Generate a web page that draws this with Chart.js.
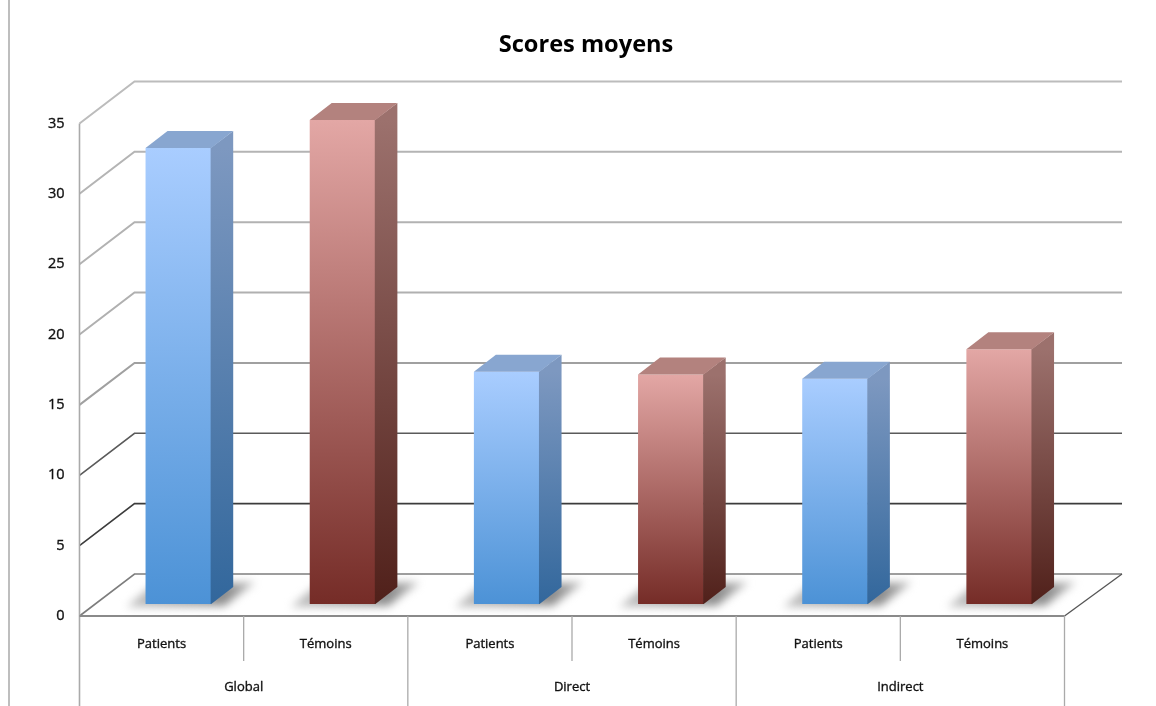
<!DOCTYPE html>
<html><head><meta charset="utf-8">
<style>html,body{margin:0;padding:0;background:#fff}canvas{display:block;filter:blur(0.5px)}</style>
<script src="https://cdn.jsdelivr.net/npm/chart.js@4"></script>
</head><body>
<div style="width:1156px;height:706px"><canvas id="c" width="1156" height="706"></canvas></div>
<script>
const categories = ['Patients','Témoins','Patients','Témoins','Patients','Témoins'];
const groups = ['Global','Direct','Indirect'];
const scores = [32.4,34.4,16.5,16.3,16.0,18.1];
const yTicks = [0,5,10,15,20,25,30,35];
const gridColors = ['#7d7d7d','#3c3c3c','#5a5a5a','#a0a0a0','#b0b0b0','#b2b2b2','#b4b4b4','#bcbcbc'];

const DEPTH = {x:55,y:-42};      // wall depth
const BACK_EXTRA = 2.5;          // back wall runs slightly past the floor corner
const BAR_SHIFT = {x:16.8,y:-12};  // bars stand inside the floor
const BAR_DEPTH = {x:22,y:-17};
const TITLE_X = 586;
const palette = {
  Patients:{top:'#88a6d0',front:['#a9cdff','#4c92d6'],side:['#7d98c0','#32679c']},
  'Témoins':{top:'#b3827e',front:['#e3a7a5','#752c27'],side:['#9c716d','#50201a']}
};

function line(ctx,pts,color,w){
  ctx.beginPath();pts.forEach((p,i)=>i?ctx.lineTo(p[0],p[1]):ctx.moveTo(p[0],p[1]));
  ctx.strokeStyle=color;ctx.lineWidth=w;ctx.stroke();
}
function vGrad(ctx,y0,y1,c){const g=ctx.createLinearGradient(0,y0,0,y1);g.addColorStop(0,c[0]);g.addColorStop(1,c[1]);return g;}

const scene3d = {
  id:'scene3d',
  afterLayout(chart){
    const t=chart.titleBlock; t.left=TITLE_X-400; t.right=TITLE_X+400;
  },
  beforeDatasetsDraw(chart){
    const {ctx,scales:{x,y}}=chart;
    const L=x.left,R=x.right,Y0=y.getPixelForValue(0);
    ctx.save();
    line(ctx,[[9,0],[9,706]],'#a8a8a8',1.5);
    ctx.beginPath();ctx.moveTo(L,Y0);ctx.lineTo(L+DEPTH.x,Y0+DEPTH.y);ctx.lineTo(R+DEPTH.x+BACK_EXTRA,Y0+DEPTH.y);ctx.lineTo(R,Y0);ctx.closePath();
    ctx.fillStyle='#fff';ctx.fill();
    yTicks.forEach((v,i)=>{
      const py=y.getPixelForValue(v);
      line(ctx,[[L,py],[L+DEPTH.x,py+DEPTH.y],[R+DEPTH.x+BACK_EXTRA,py+DEPTH.y]],gridColors[i],i<3?1.6:2);
    });
    line(ctx,[[R,Y0],[R+DEPTH.x+BACK_EXTRA,Y0+DEPTH.y]],'#555',1.3);
    line(ctx,[[L,y.getPixelForValue(35)],[L,706]],'#aaa',1.6);
    line(ctx,[[L,Y0],[R,Y0]],'#8a8a8a',2);
    const half=(x.getPixelForValue(1)-x.getPixelForValue(0))/2;
    categories.forEach((c,i)=>{
      const px=x.getPixelForValue(i)+half;
      line(ctx,[[px,Y0],[px,i%2===1?706:661]],'#aaa',1.3);
    });
    chart.getDatasetMeta(0).data.forEach(b=>{
      const l=b.x-b.width/2+BAR_SHIFT.x,r=b.x+b.width/2+BAR_SHIFT.x,bt=b.base+BAR_SHIFT.y;
      ctx.save();ctx.filter='blur(4px)';
      const g=ctx.createLinearGradient(l-20,0,r+42,0);
      g.addColorStop(0,'#c4c4c4');g.addColorStop(0.78,'#8c8c8c');g.addColorStop(1,'#bcbcbc');
      ctx.fillStyle=g;
      ctx.beginPath();ctx.moveTo(l-19,bt+3);ctx.lineTo(l+6,bt-18);ctx.lineTo(r+44,bt-22);ctx.lineTo(r+13,bt+2);ctx.closePath();ctx.fill();
      ctx.restore();
    });
    ctx.restore();
  },
  beforeDatasetDraw(chart){
    chart.ctx.save();chart.ctx.translate(BAR_SHIFT.x,BAR_SHIFT.y);
  },
  afterDatasetDraw(chart){
    const ctx=chart.ctx;
    chart.getDatasetMeta(0).data.forEach((b,i)=>{
      const p=palette[categories[i]];
      const l=b.x-b.width/2,r=b.x+b.width/2,t=b.y,bt=b.base,dx=BAR_DEPTH.x,dy=BAR_DEPTH.y;
      ctx.fillStyle=vGrad(ctx,t,bt,p.side);
      ctx.beginPath();ctx.moveTo(r-0.6,t);ctx.lineTo(r+dx,t+dy);ctx.lineTo(r+dx,bt+dy);ctx.lineTo(r,bt);ctx.lineTo(r-0.6,bt);ctx.closePath();ctx.fill();
      ctx.fillStyle=p.top;
      ctx.beginPath();ctx.moveTo(l,t);ctx.lineTo(l+dx,t+dy);ctx.lineTo(r+dx,t+dy);ctx.lineTo(r,t);ctx.closePath();ctx.fill();
    });
    ctx.restore();
  }
};

const heavy = {textStrokeColor:'#111',textStrokeWidth:0.35};
new Chart(document.getElementById('c'),{
  type:'bar',
  data:{labels:categories,datasets:[{
    label:'Scores moyens',
    data:scores,
    clip:false,
    barPercentage:0.4,categoryPercentage:1,
    backgroundColor(c){
      const sc=c.chart.scales.y; if(!sc||c.dataIndex===undefined) return '#888';
      const y0=sc.getPixelForValue(scores[c.dataIndex]),y1=sc.getPixelForValue(0);
      if(!isFinite(y0)||!isFinite(y1)) return '#888';
      return vGrad(c.chart.ctx,y0,y1,palette[categories[c.dataIndex]].front);
    }
  }]},
  options:{
    responsive:false,animation:false,
    layout:{padding:{top:28.5,right:91.5,left:0,bottom:1}},
    plugins:{
      legend:{display:false},tooltip:{enabled:false},
      title:{display:true,text:'Scores moyens',color:'#000',padding:{top:0,bottom:61.9},
        font:{family:'Open Sans',size:23.6,weight:'bold',lineHeight:1.4}}
    },
    scales:{
      y:{min:0,max:35,
        afterFit(s){s.width=79.5;},
        grid:{display:false},border:{display:false},
        ticks:{stepSize:5,padding:7,color:'#111',font:{family:'Open Sans',size:14.5},...heavy}},
      x:{type:'category',position:'bottom',offset:true,
        afterFit(s){s.height=46;},
        grid:{display:false},border:{display:false},
        ticks:{padding:12,color:'#111',maxRotation:0,autoSkip:false,font:{family:'Open Sans',size:13},...heavy}},
      group:{type:'category',labels:groups,position:'bottom',offset:true,
        afterFit(s){s.height=43;},
        grid:{display:false},border:{display:false},
        ticks:{padding:9,color:'#111',maxRotation:0,autoSkip:false,font:{family:'Open Sans',size:13},...heavy}}
    }
  },
  plugins:[scene3d]
});
</script>
</body></html>
